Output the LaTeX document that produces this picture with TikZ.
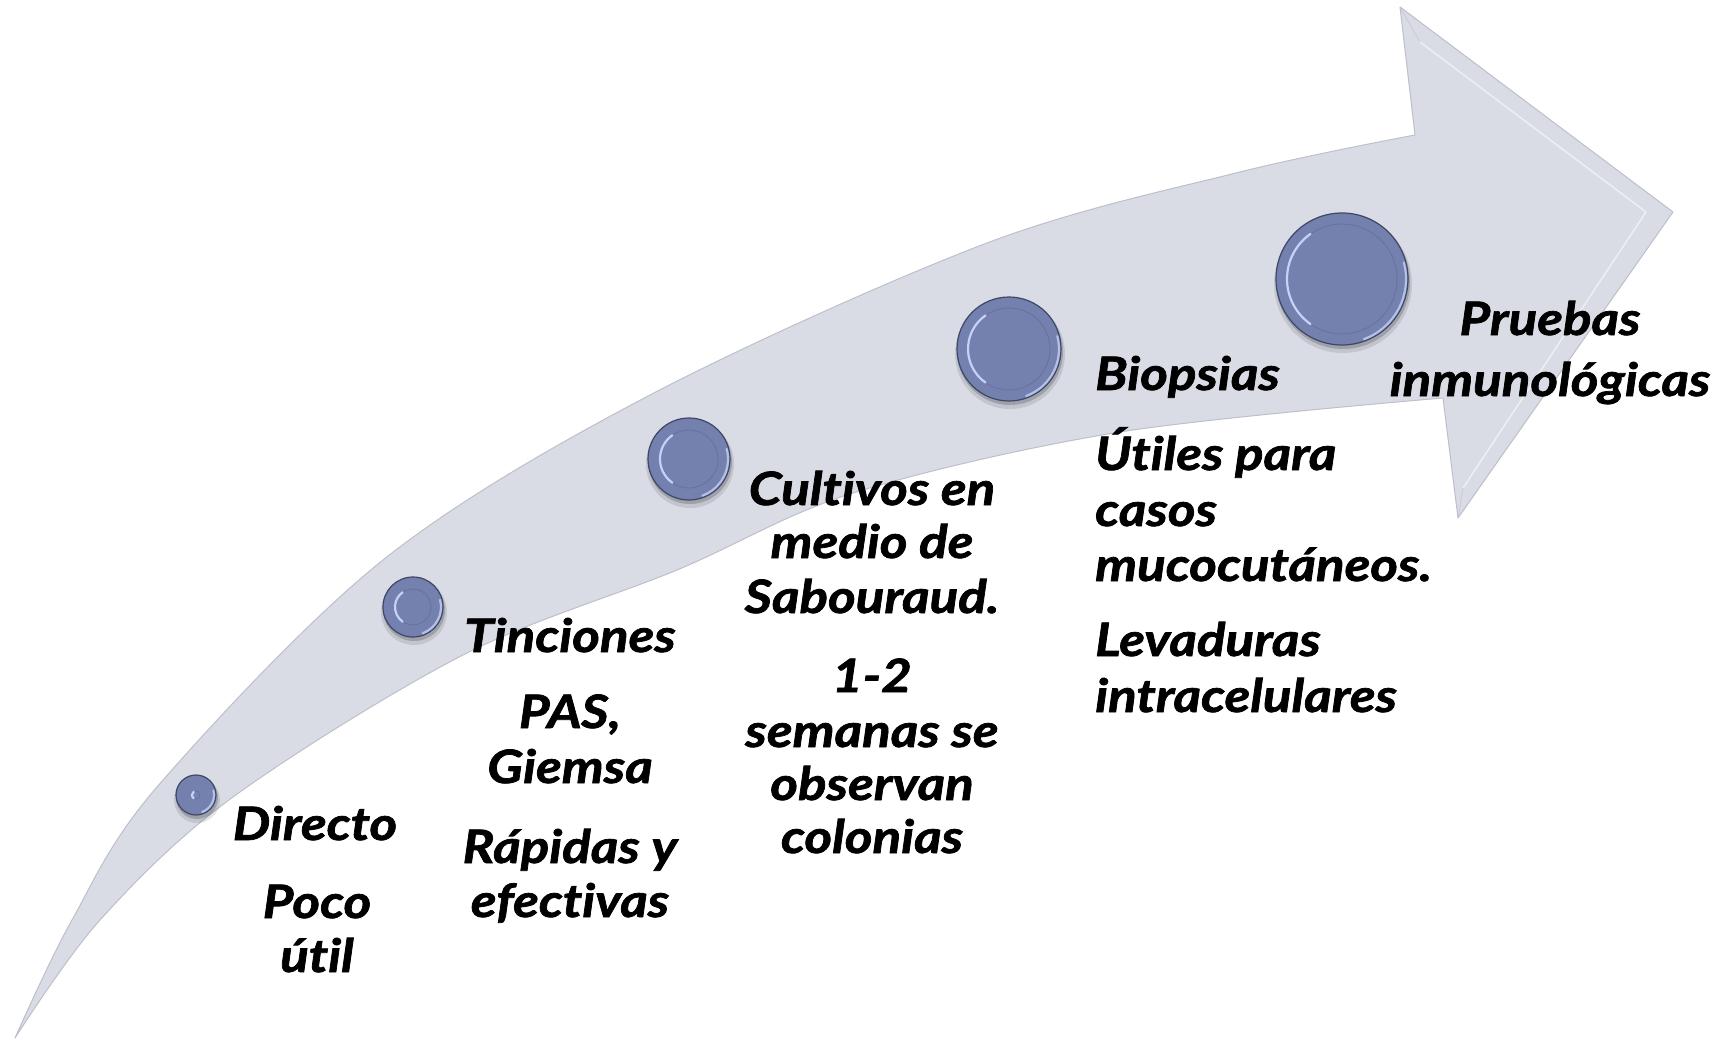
\documentclass[tikz,border=0pt]{standalone}
\usepackage{fontspec}
\setmainfont{Lato}[Ligatures=NoCommon, BoldItalicFeatures={FakeStretch=1.15, FakeBold=1.6}]
\definecolor{arrowfill}{HTML}{D9DCE5}
\definecolor{arrowedge}{HTML}{BDC0CB}
\definecolor{orbmain}{HTML}{7480AD}
\definecolor{orbrim}{HTML}{3F4766}
\definecolor{orbring}{HTML}{66719C}
\definecolor{orbhl}{HTML}{C6D1F7}
\tikzset{
  lbl/.style={font=\fontsize{46}{55}\selectfont\bfseries\itshape, inner sep=0pt, anchor=base, text=black},
  lblw/.style={lbl, anchor=base west},
  orbnode/.style={circle, fill=orbmain, draw=orbrim, line width=1.2pt, inner sep=0pt},
  orbring/.style={draw=orbring, line width=0.8pt},
  orbhlstyle/.style={draw=orbhl, line width=2.2pt, line cap=round},
}
% #1 name, #2 x, #3 y, #4 radius, #5 inner radius
\newcommand{\myorb}[5]{%
  \fill[black, opacity=0.10] (#2+1,#3+5) circle (#4+3);
  \fill[black, opacity=0.18] (#2+1,#3+3) circle (#4+1);
  \node[orbnode, minimum size={2*#4pt}] (#1) at (#2,#3) {};
  \draw[orbring] (#1.center) circle (#5);
  \draw[orbhlstyle] (#1.center) ++(125:#5) arc[start angle=125, end angle=235, radius=#5];
  \draw[orbhlstyle, draw opacity=0.8] (#1.center) ++(-15:#4-2) arc[start angle=-15, end angle=70, radius=#4-2];
}
\begin{document}
\begin{tikzpicture}[x=1pt, y=-1pt]
\useasboundingbox (0,0) rectangle (1735,1041);
\fill[white] (0,0) rectangle (1735,1041);
% big curved arrow
\fill[arrowfill, draw=arrowedge, line width=1pt, line join=round]
  plot[smooth, tension=0.55] coordinates {(15,1038) (72,920) (157,787) (383,560) (650,395) (987,243) (1240,172) (1415,135)}
  -- (1400,7) -- (1673,212) -- (1458,518) -- (1443,398)
  -- plot[smooth, tension=0.55] coordinates {(1443,398) (1120,432) (853,493) (677,570) (463,655) (233,797) (100,920) (15,1038)}
  -- cycle;
% bevel of the head
\draw[white, opacity=0.55, line width=1.5pt, line join=round] (1420,42) -- (1646,212) -- (1463,488);
\draw[arrowedge, opacity=0.5, line width=1pt] (1400,7) -- (1420,42);
\draw[arrowedge, opacity=0.5, line width=1pt] (1458,518) -- (1463,488);
% orbs
\myorb{c1}{196}{795}{20}{4}
\myorb{c2}{413}{607}{30}{18}
\myorb{c3}{689}{459}{41}{29}
\myorb{c4}{1009}{349}{52}{41}
\myorb{c5}{1342}{279}{66}{55}
% texts
\node[lbl] (d1) at (315,840) {Directo};
\node[lbl] (d2) at (317,918) {Poco};
\node[lbl] (d3) at (317,972) {útil};
\node[lbl] (t1) at (570,652) {Tinciones};
\node[lbl] (t2) at (570,728) {PAS,};
\node[lbl] (t3) at (570,783) {Giemsa};
\node[lbl] (t4) at (570,863) {Rápidas y};
\node[lbl] (t5) at (570,917) {efectivas};
\node[lbl] (k1) at (872,505) {Cultivos en};
\node[lbl] (k2) at (872,558) {medio de};
\node[lbl] (k3) at (872,613) {Sabouraud.};
\node[lbl] (k4) at (872,692) {1-2};
\node[lbl] (k5) at (872,747) {semanas se};
\node[lbl] (k6) at (872,800) {observan};
\node[lbl] (k7) at (872,853) {colonias};
\node[lblw] (b1) at (1095,390) {Biopsias};
\node[lblw] (b2) at (1095,470) {Útiles para};
\node[lblw] (b3) at (1095,526) {casos};
\node[lblw] (b4) at (1095,581) {mucocutáneos.};
\node[lblw] (b5) at (1095,656) {Levaduras};
\node[lblw] (b6) at (1095,712) {intracelulares};
\node[lbl] (p1) at (1550,335) {Pruebas};
\node[lbl] (p2) at (1550,396) {inmunológicas};
\end{tikzpicture}
\end{document}
